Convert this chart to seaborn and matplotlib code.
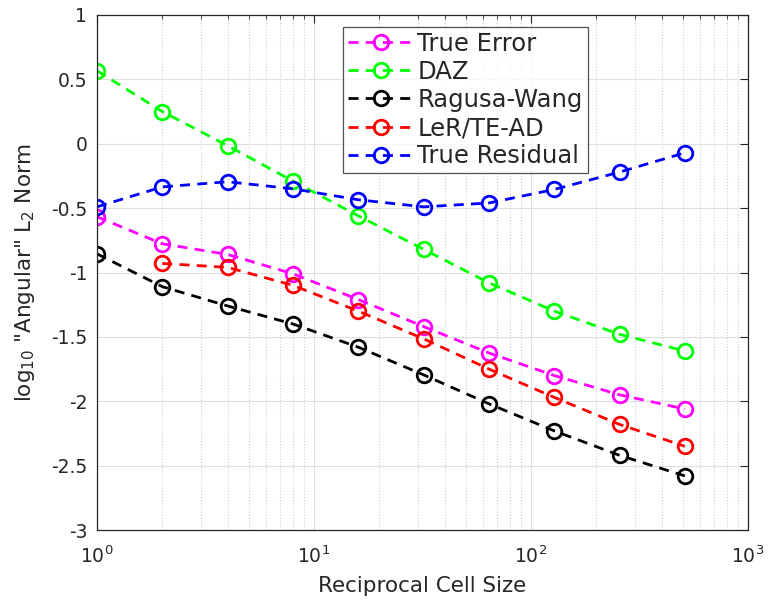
import numpy as np
import matplotlib
matplotlib.use("Agg")
import matplotlib.pyplot as plt
import seaborn as sns
from matplotlib.ticker import LogLocator, FixedLocator

# reciprocal cell sizes (refinement levels)
cells = [1, 2, 4, 8, 16, 32, 64, 128, 256, 512]

true_error = [-0.567, -0.777, -0.86, -1.01, -1.21, -1.42, -1.625, -1.80, -1.95, -2.06]
daz = [0.567, 0.25, -0.015, -0.29, -0.56, -0.82, -1.08, -1.30, -1.48, -1.61]
ragusa_wang = [-0.855, -1.11, -1.26, -1.40, -1.58, -1.795, -2.02, -2.23, -2.42, -2.58]
ler_cells = [2, 4, 8, 16, 32, 64, 128, 256, 512]
ler_te_ad = [-0.93, -0.96, -1.10, -1.30, -1.515, -1.75, -1.97, -2.18, -2.35]
true_residual = [-0.49, -0.335, -0.295, -0.35, -0.435, -0.49, -0.46, -0.355, -0.22, -0.07]

series = [
    ("True Error", cells, true_error, "#ff00ff"),
    ("DAZ", cells, daz, "#00ff00"),
    ("Ragusa-Wang", cells, ragusa_wang, "#000000"),
    ("LeR/TE-AD", ler_cells, ler_te_ad, "#ff0000"),
    ("True Residual", cells, true_residual, "#0000ff"),
]

sns.set_style("white")
plt.rcParams["font.family"] = ["DejaVu Sans"]

fig = plt.figure(figsize=(7.69, 6.04), dpi=100)
ax = fig.add_axes([97 / 769, 1 - 530 / 604, 651 / 769, 515 / 604])

for name, xs, ys, col in series:
    sns.lineplot(x=xs, y=ys, ax=ax, color=col, label=name,
                 linewidth=2.0, marker="o", markersize=10.5, markerfacecolor="none",
                 markeredgecolor=col, markeredgewidth=2.0)

# dashed connecting lines
for line in ax.lines:
    line.set_linestyle((0, (3.6, 2.6)))

ax.set_xscale("log")
ax.set_xlim(1, 1000)
ax.set_ylim(-3, 1)
ax.xaxis.set_major_locator(FixedLocator([1, 10, 100, 1000]))
ax.set_xticklabels([r"$10^{0}$", r"$10^{1}$", r"$10^{2}$", r"$10^{3}$"])
ax.xaxis.set_minor_locator(LogLocator(base=10, subs=np.arange(2, 10)))
ax.set_yticks([-3, -2.5, -2, -1.5, -1, -0.5, 0, 0.5, 1])
ax.set_yticklabels(["-3", "-2.5", "-2", "-1.5", "-1", "-0.5", "0", "0.5", "1"])

ax.grid(True, which="major", color="#dedede", linewidth=0.8, linestyle="-")
ax.grid(True, which="minor", axis="x", color="#cfcfcf", linewidth=0.8, linestyle=":")
ax.set_axisbelow(True)

ax.tick_params(which="both", direction="in", top=True, right=True,
               labelsize=13.5, colors="#262626")
ax.tick_params(axis="x", which="major", pad=11)
ax.tick_params(axis="y", which="major", pad=7)
ax.tick_params(which="major", length=6)
ax.tick_params(which="minor", length=3)
for s in ax.spines.values():
    s.set_color("#262626")
    s.set_linewidth(0.9)

ax.set_xlabel("Reciprocal Cell Size", fontsize=15.5, color="#262626", labelpad=7)
ax.set_ylabel(r'log$_{10}$ "Angular" L$_2$ Norm', fontsize=15.5, color="#262626",
              labelpad=10)

leg = ax.legend(loc="upper left", bbox_to_anchor=(0.3775, 0.977), fontsize=17.5,
                frameon=True, fancybox=False, edgecolor="#262626",
                handlelength=2.75, handletextpad=0.12, borderpad=0.2,
                labelspacing=0.17, borderaxespad=0)
leg.get_frame().set_linewidth(0.9)

fig.savefig("out.png", dpi=100)
